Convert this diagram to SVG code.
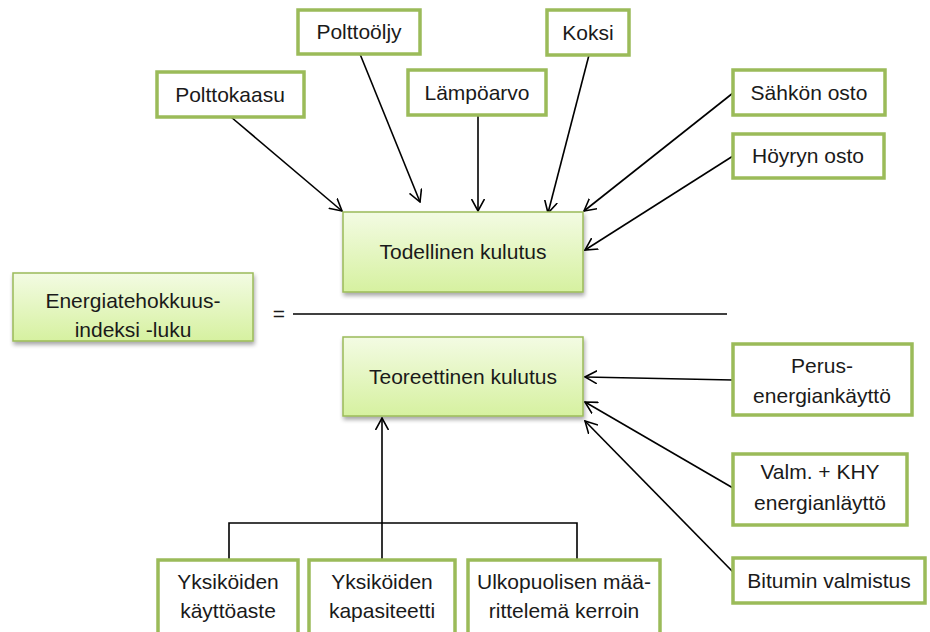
<svg xmlns="http://www.w3.org/2000/svg" width="930" height="632" viewBox="0 0 930 632">
<style>
  text { font-family: "Liberation Sans", Arial, sans-serif; font-size: 21px; fill: #1a1a1a; text-anchor: middle; }
  .w { fill: #ffffff; stroke: #9bbb59; stroke-width: 3.5; }
  .g { fill: url(#gr); stroke: #9bbb59; stroke-width: 1.5; filter: url(#sh); }
  .c { fill: none; stroke: #000000; stroke-width: 1.6; }
  .a { marker-end: url(#arr); }
</style>
<defs>
  <linearGradient id="gr" x1="0" y1="0" x2="0" y2="1">
    <stop offset="0" stop-color="#f3fbe3"/>
    <stop offset="1" stop-color="#d6f1a0"/>
  </linearGradient>
  <filter id="sh" x="-10%" y="-10%" width="130%" height="140%">
    <feGaussianBlur in="SourceAlpha" stdDeviation="2"/>
    <feOffset dx="1" dy="3" result="o"/>
    <feComponentTransfer><feFuncA type="linear" slope="0.35"/></feComponentTransfer>
    <feMerge><feMergeNode/><feMergeNode in="SourceGraphic"/></feMerge>
  </filter>
  <marker id="arr" markerUnits="userSpaceOnUse" viewBox="0 0 13 14" markerWidth="13" markerHeight="14" refX="12" refY="7" orient="auto">
    <path d="M0,0.5 L12,7 L0,13.5" fill="none" stroke="#000" stroke-width="1.6"/>
  </marker>
</defs>

<g id="connectors">
  <line class="c a" x1="231" y1="117" x2="342" y2="211"/>
  <line class="c a" x1="360" y1="54" x2="420" y2="202"/>
  <line class="c a" x1="478" y1="115" x2="478" y2="211"/>
  <line class="c a" x1="589" y1="55" x2="548" y2="213"/>
  <line class="c a" x1="733" y1="93" x2="584" y2="211"/>
  <line class="c a" x1="733" y1="156" x2="585" y2="250"/>
  <line class="c a" x1="733" y1="380" x2="585" y2="377"/>
  <line class="c a" x1="733" y1="488" x2="585" y2="402"/>
  <line class="c a" x1="733" y1="572" x2="585" y2="421"/>
  <line class="c a" x1="382" y1="560" x2="382" y2="418"/>
  <polyline class="c" points="229,560 229,523 577,523 577,560"/>
  <line class="c" x1="293" y1="314" x2="727" y2="314"/>
</g>

<g id="eq"><text x="279" y="321">=</text></g>

<g id="polttokaasu"><rect class="w" x="157" y="72" width="147" height="45"/><text x="230" y="102">Polttokaasu</text></g>
<g id="polttooljy"><rect class="w" x="298" y="10" width="122" height="44"/><text x="359" y="39">Polttoöljy</text></g>
<g id="lampoarvo"><rect class="w" x="408" y="70" width="138" height="45"/><text x="477" y="100">Lämpöarvo</text></g>
<g id="koksi"><rect class="w" x="547" y="10" width="82" height="45"/><text x="588" y="40">Koksi</text></g>
<g id="sahkon"><rect class="w" x="733" y="70" width="152" height="45"/><text x="809" y="100">Sähkön osto</text></g>
<g id="hoyryn"><rect class="w" x="733" y="134" width="151" height="44"/><text x="808" y="163">Höyryn osto</text></g>

<g id="todellinen"><rect class="g" x="343" y="212" width="240" height="80"/><text x="463" y="259">Todellinen kulutus</text></g>
<g id="energia"><rect class="g" x="13" y="273" width="240" height="68"/><text x="133" y="308">Energiatehokkuus-</text><text x="133" y="337">indeksi -luku</text></g>
<g id="teoreettinen"><rect class="g" x="343" y="337" width="240" height="79"/><text x="463" y="384">Teoreettinen kulutus</text></g>

<g id="perus"><rect class="w" x="733" y="344" width="179" height="71"/><text x="822" y="373">Perus-</text><text x="822" y="403">energiankäyttö</text></g>
<g id="valm"><rect class="w" x="733" y="454" width="174" height="71"/><text x="820" y="479">Valm. + KHY</text><text x="820" y="510">energianläyttö</text></g>
<g id="bitumin"><rect class="w" x="733" y="558" width="192" height="45"/><text x="829" y="588">Bitumin valmistus</text></g>

<g id="kayttoaste"><rect class="w" x="158" y="560" width="140" height="80"/><text x="228" y="589">Yksiköiden</text><text x="228" y="618">käyttöaste</text></g>
<g id="kapasiteetti"><rect class="w" x="309" y="560" width="146" height="80"/><text x="382" y="589">Yksiköiden</text><text x="382" y="618">kapasiteetti</text></g>
<g id="ulkopuolisen"><rect class="w" x="468" y="560" width="192" height="80"/><text x="564" y="589">Ulkopuolisen mää-</text><text x="564" y="618">rittelemä kerroin</text></g>
</svg>
